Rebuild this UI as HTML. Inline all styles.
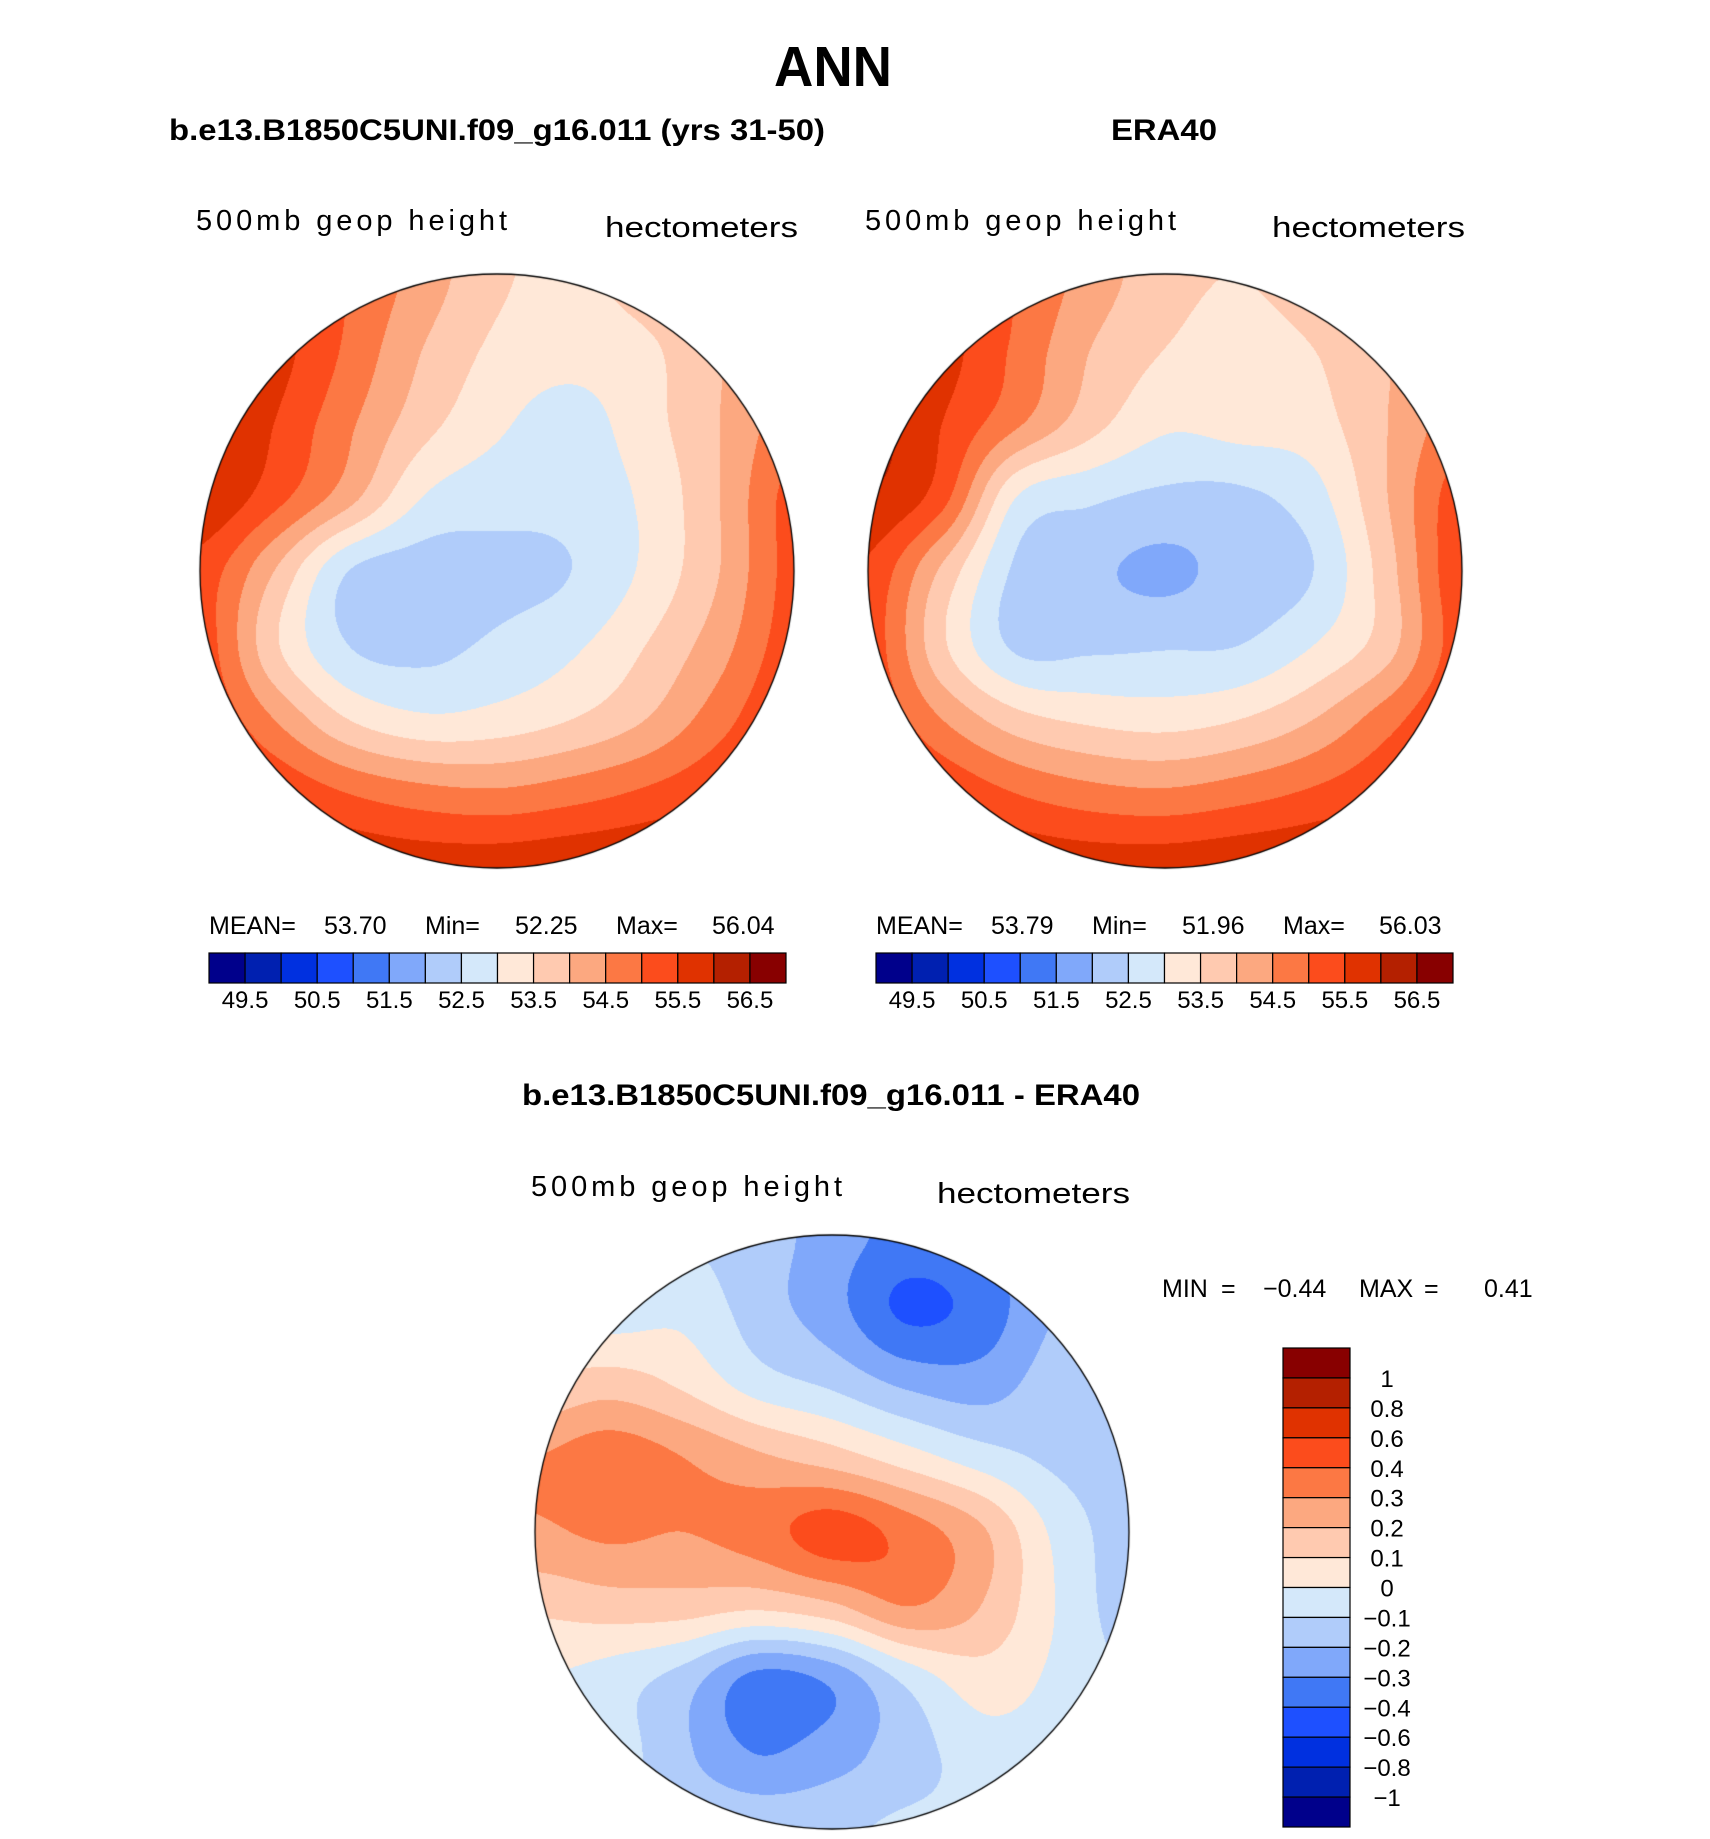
<!DOCTYPE html>
<html><head><meta charset="utf-8"><style>
html,body{margin:0;padding:0;background:#fff;}
#wrap{position:relative;width:1710px;height:1839px;overflow:hidden;background:#fff;}
canvas{position:absolute;}
svg{position:absolute;left:0;top:0;}
text{font-family:"Liberation Sans",sans-serif;fill:#000;}
</style></head><body>
<div id="wrap">
<canvas id="mapA" width="600" height="600" style="left:197px;top:271px"></canvas>
<canvas id="mapB" width="600" height="600" style="left:865px;top:271px"></canvas>
<canvas id="mapC" width="600" height="600" style="left:532px;top:1232px"></canvas>
<svg id="ov" width="1710" height="1839">
<text x="774" y="86" font-size="57" font-weight="bold" textLength="118" lengthAdjust="spacingAndGlyphs">ANN</text>
<text x="169" y="140" font-size="30" font-weight="bold" textLength="656" lengthAdjust="spacingAndGlyphs">b.e13.B1850C5UNI.f09_g16.011 (yrs 31-50)</text>
<text x="1111" y="140" font-size="30" font-weight="bold" textLength="106" lengthAdjust="spacingAndGlyphs">ERA40</text>
<text x="196" y="230" font-size="29" textLength="311" lengthAdjust="spacing">500mb  geop  height</text>
<text x="605" y="237" font-size="29" textLength="193" lengthAdjust="spacingAndGlyphs">hectometers</text>
<text x="865" y="230" font-size="29" textLength="311" lengthAdjust="spacing">500mb  geop  height</text>
<text x="1272" y="237" font-size="29" textLength="193" lengthAdjust="spacingAndGlyphs">hectometers</text>
<text x="522" y="1105" font-size="30" font-weight="bold" textLength="618" lengthAdjust="spacingAndGlyphs">b.e13.B1850C5UNI.f09_g16.011 - ERA40</text>
<text x="531" y="1196" font-size="29" textLength="311" lengthAdjust="spacing">500mb  geop  height</text>
<text x="937" y="1203" font-size="29" textLength="193" lengthAdjust="spacingAndGlyphs">hectometers</text>
<g font-size="25">
<text x="1162" y="1297">MIN</text><text x="1221" y="1297">=</text><text x="1263" y="1297">−0.44</text>
<text x="1359" y="1297">MAX</text><text x="1424" y="1297">=</text><text x="1484" y="1297">0.41</text>
</g>
<g id="stats" font-size="25"></g>
<g id="bars"></g>
</svg>
</div>
<script>
// colour levels shared by all colourbars
const colors = ['#00008b','#0020b0','#0030e0','#1e50ff','#4078f5','#80a8fa','#b0ccfa','#d4e8fa','#ffe8d8','#ffcab0','#fca880','#fc7844','#fc4c1c','#e03200','#b42000','#880000'];
const levelsAbs = [49.5,50,50.5,51,51.5,52,52.5,53,53.5,54,54.5,55,55.5,56,56.5];
const levelsDiff = [-1,-0.8,-0.6,-0.4,-0.3,-0.2,-0.1,0,0.1,0.2,0.3,0.4,0.6,0.8,1];
const absTickLabels = ['49.5','50.5','51.5','52.5','53.5','54.5','55.5','56.5'];
const diffTickLabels = ['1','0.8','0.6','0.4','0.3','0.2','0.1','0','−0.1','−0.2','−0.3','−0.4','−0.6','−0.8','−1'];
const statsModel = ['53.70','52.25','56.04'];
const statsEra = ['53.79','51.96','56.03'];
// 9x9 gridded fields (rows top->bottom, cols left->right across the polar disc)
const fieldModel = [
[56.2,55.6,55.0,54.3,53.6,53.4,53.8,54.3,54.8],
[56.0,55.7,54.9,54.0,53.4,53.2,53.4,54.0,54.6],
[56.2,55.5,54.6,53.7,53.1,52.8,53.3,54.0,54.8],
[56.0,55.2,54.2,53.0,52.7,52.7,53.1,54.0,55.2],
[55.3,54.0,52.5,52.25,52.35,52.5,53.1,54.0,55.2],
[55.3,53.6,52.5,52.35,52.6,52.9,53.5,54.3,55.3],
[55.5,54.5,53.5,53.1,53.2,53.5,54.0,54.8,55.6],
[56.0,55.5,55.0,54.7,54.6,54.8,55.1,55.5,56.0],
[56.3,56.1,55.9,55.8,55.8,55.9,56.0,56.1,56.3]];
const fieldEra = [
[56.2,55.6,55.0,54.3,53.7,53.5,53.8,54.3,54.8],
[56.0,55.7,54.9,54.0,53.5,53.3,53.5,54.0,54.6],
[56.2,55.5,54.6,53.7,53.1,53.2,53.3,54.0,54.8],
[56.0,55.2,53.0,52.6,52.4,52.4,52.8,54.0,55.3],
[55.4,53.9,52.4,52.1,51.9,52.2,52.5,53.8,55.4],
[55.3,53.6,52.4,52.4,52.45,52.5,53.0,53.8,55.3],
[55.5,54.5,53.7,53.4,53.3,53.5,54.0,54.8,55.6],
[56.0,55.5,55.0,54.7,54.6,54.8,55.1,55.5,56.0],
[56.3,56.1,55.9,55.8,55.8,55.9,56.0,56.1,56.3]];
const fieldDiff = [
[-0.05,-0.05,-0.1,-0.15,-0.25,-0.33,-0.3,-0.2,-0.15],
[0.0,-0.05,-0.03,-0.15,-0.26,-0.42,-0.36,-0.2,-0.15],
[0.1,0.15,0.08,-0.05,-0.12,-0.22,-0.25,-0.15,-0.12],
[0.3,0.36,0.3,0.22,0.15,0.05,-0.05,-0.12,-0.15],
[0.28,0.32,0.3,0.35,0.45,0.36,0.22,-0.02,-0.15],
[0.12,0.15,0.15,0.12,0.18,0.3,0.2,0.0,-0.15],
[0.0,-0.05,-0.15,-0.34,-0.28,-0.08,0.05,-0.02,-0.1],
[-0.05,-0.05,-0.18,-0.3,-0.24,-0.15,-0.05,-0.05,-0.05],
[-0.08,-0.08,-0.1,-0.12,-0.12,-0.08,-0.08,-0.08,-0.08]];

function hex(c){return [parseInt(c.substr(1,2),16),parseInt(c.substr(3,2),16),parseInt(c.substr(5,2),16)];}
const rgb = colors.map(hex);
function levelIndex(v,lev){let i=0;while(i<lev.length&&v>=lev[i])i++;return i;}
function cr(p0,p1,p2,p3,t){return 0.5*((2*p1)+(-p0+p2)*t+(2*p0-5*p1+4*p2-p3)*t*t+(-p0+3*p1-3*p2+p3)*t*t*t);}
function sample(f,u,v){ // u,v in [0,1], Catmull-Rom
  const n=f.length-1; const x=Math.min(Math.max(u*n,0),n-1e-6), y=Math.min(Math.max(v*n,0),n-1e-6);
  const i=Math.floor(x), j=Math.floor(y), fx=x-i, fy=y-j;
  const cl=k=>Math.min(Math.max(k,0),n);
  const rows=[];
  for(let m=-1;m<=2;m++){const rr=f[cl(j+m)];rows.push(cr(rr[cl(i-1)],rr[cl(i)],rr[cl(i+1)],rr[cl(i+2)],fx));}
  return cr(rows[0],rows[1],rows[2],rows[3],fy);
}
function drawMap(id,field,lev){
  const cv=document.getElementById(id), ctx=cv.getContext('2d');
  const W=600, c=300, r=297; const img=ctx.createImageData(W,W);
  for(let y=0;y<W;y++)for(let x=0;x<W;x++){
    const dx=x+0.5-c, dy=y+0.5-c; if(dx*dx+dy*dy>r*r)continue;
    const val=sample(field,(dx/r+1)/2,(dy/r+1)/2);
    const col=rgb[levelIndex(val,lev)]; const k=(y*W+x)*4;
    img.data[k]=col[0];img.data[k+1]=col[1];img.data[k+2]=col[2];img.data[k+3]=255;
  }
  ctx.putImageData(img,0,0);
  ctx.beginPath();ctx.arc(c,c,r,0,Math.PI*2);ctx.lineWidth=1.3;ctx.strokeStyle='#000';ctx.stroke();
}
drawMap('mapA',fieldModel,levelsAbs);
drawMap('mapB',fieldEra,levelsAbs);
drawMap('mapC',fieldDiff,levelsDiff);

const NS='http://www.w3.org/2000/svg';
const bars=document.getElementById('bars'), stats=document.getElementById('stats');
function mk(tag,attrs,parent,txt){const e=document.createElementNS(NS,tag);for(const k in attrs)e.setAttribute(k,attrs[k]);if(txt!==undefined)e.textContent=txt;parent.appendChild(e);return e;}
function hbar(x0,name,st){
  const w=577/16;
  const g=mk('g',{},bars);
  
  
  colors.forEach((c,i)=>{
    const rc=mk('rect',{x:x0+i*w,y:953,width:w,height:30,fill:c,stroke:'#000','stroke-width':1.2},g);
    
    
  });
  absTickLabels.forEach((t,i)=>{
    const tx=mk('text',{x:x0+(1+2*i)*w,y:1008,'font-size':24,'text-anchor':'middle'},g,t);
    
    
  });
  const sg=mk('g',{},stats);
  
  
  mk('text',{x:x0,y:934},sg,'MEAN=');
  mk('text',{x:x0+115,y:934},sg,st[0]);
  mk('text',{x:x0+216,y:934},sg,'Min=');
  mk('text',{x:x0+306,y:934},sg,st[1]);
  mk('text',{x:x0+407,y:934},sg,'Max=');
  mk('text',{x:x0+503,y:934},sg,st[2]);
}
hbar(209,'model-colorbar',statsModel);
hbar(876,'era40-colorbar',statsEra);
(function(){
  const h=479/16, y0=1348;
  const g=mk('g',{},bars);
  
  
  colors.slice().reverse().forEach((c,i)=>{
    const rc=mk('rect',{x:1283,y:y0+i*h,width:67,height:h,fill:c,stroke:'#000','stroke-width':1.2},g);
    
    
  });
  diffTickLabels.forEach((t,i)=>{
    const tx=mk('text',{x:1387,y:y0+(i+1)*h+9,'font-size':24,'text-anchor':'middle'},g,t);
    
    
  });
})();
</script>
</body></html>
